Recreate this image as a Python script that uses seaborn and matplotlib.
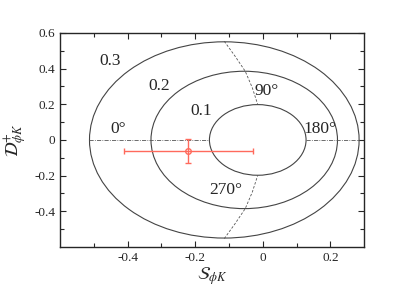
import numpy as np
import pandas as pd
import seaborn as sns
import matplotlib
matplotlib.use("Agg")
import matplotlib.pyplot as plt
from matplotlib.patches import Ellipse

# contour radii and their ellipse shapes
r_labels = ["0.1", "0.2", "0.3"]
ell_cx = [-0.015, -0.055, -0.114]
ell_a = [0.143, 0.276, 0.399]
ell_b = [0.198, 0.385, 0.550]
label_x = [-0.182, -0.306, -0.451]
label_y = [0.163, 0.303, 0.443]

# constant phase lines
ph0_x = [-0.513, -0.331, -0.159]
ph180_x = [0.128, 0.221, 0.285]
ph90_x = [-0.114, -0.082, -0.052, -0.031, -0.015]
ph90_y = [0.553, 0.469, 0.385, 0.292, 0.198]
ph270_x = [-0.114, -0.082, -0.052, -0.031, -0.015]
ph270_y = [-0.553, -0.469, -0.385, -0.292, -0.198]
phase_text = ["0°", "90°", "180°", "270°"]
phase_tx = [-0.427, 0.012, 0.17, -0.111]
phase_ty = [0.064, 0.277, 0.064, -0.278]

# measurement
meas_S, meas_D = -0.22, -0.06
err_S_lo, err_S_hi = 0.19, 0.19
err_D = 0.067

sns.set_style("ticks")
plt.rcParams['font.family'] = ['Liberation Serif', 'DejaVu Serif']
plt.rcParams['mathtext.fontset'] = 'stix'

fig = plt.figure(figsize=(3.98, 2.99), dpi=100)
ax = fig.add_axes([0.151, 0.174, 0.764, 0.716])

for cx, a, b in zip(ell_cx, ell_a, ell_b):
    ax.add_patch(Ellipse((cx, 0), 2 * a, 2 * b, fill=False, ec='#444444', lw=0.8))
for t, x, y in zip(r_labels, label_x, label_y):
    ax.text(x, y, t, fontsize=12.5, ha='center', va='center')

sns.lineplot(x=ph0_x, y=[0] * 3, sort=False, estimator=None, ax=ax,
             color='#555555', lw=0.6, linestyle=(0, (5, 1.5, 1, 1.5)))
sns.lineplot(x=ph180_x, y=[0] * 3, sort=False, estimator=None, ax=ax,
             color='#555555', lw=0.6, linestyle=(0, (5, 1.5, 1, 1.5)))
sns.lineplot(x=ph90_x, y=ph90_y, sort=False, estimator=None, ax=ax,
             color='#555555', lw=0.6, linestyle=(0, (3, 2)))
sns.lineplot(x=ph270_x, y=ph270_y, sort=False, estimator=None, ax=ax,
             color='#555555', lw=0.6, linestyle=(0, (3, 2)))
for t, x, y in zip(phase_text, phase_tx, phase_ty):
    ax.text(x, y, t, fontsize=12.5, ha='center', va='center')

ax.errorbar([meas_S], [meas_D], xerr=[[err_S_lo], [err_S_hi]], yerr=[[err_D], [err_D]],
            fmt='o', ms=4, mfc='none', mec='#ff6a5c', ecolor='#ff6a5c', elinewidth=1,
            capsize=2.5, capthick=1)

ax.set_xlim(-0.6, 0.3)
ax.set_ylim(-0.6, 0.6)
ax.set_xticks([-0.4, -0.2, 0, 0.2])
ax.set_xticklabels(['-0.4', '-0.2', '0', '0.2'])
ax.set_yticks([-0.4, -0.2, 0, 0.2, 0.4, 0.6])
ax.set_yticklabels(['-0.4', '-0.2', '0', '0.2', '0.4', '0.6'])
ax.set_xticks(np.arange(-0.5, 0.3, 0.1), minor=True)
ax.set_yticks(np.arange(-0.5, 0.6, 0.1), minor=True)
ax.tick_params(which='both', direction='in', top=True, right=True, labelsize=9.5, width=0.8)
ax.tick_params(which='major', length=4)
ax.tick_params(which='minor', length=3)
for s in ax.spines.values():
    s.set_linewidth(1)

ax.set_xlabel(r'$\mathcal{S}_{\phi K}$', fontsize=13, labelpad=1)
ax.set_ylabel(r'$\mathcal{D}^{+}_{\phi K}$', fontsize=13, labelpad=4)

fig.savefig('out.png', dpi=100)
